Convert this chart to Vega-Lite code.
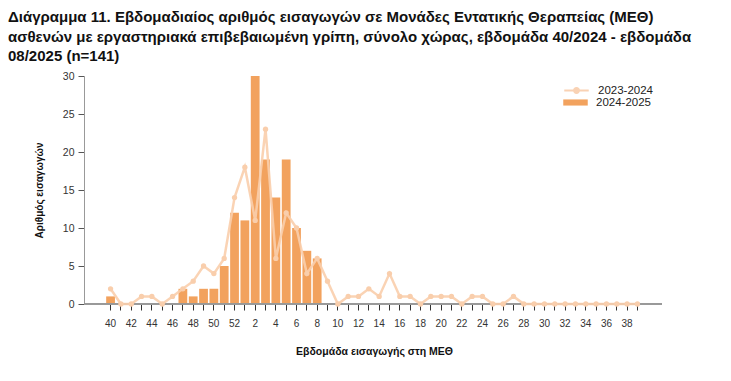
{
  "$schema": "https://vega.github.io/schema/vega-lite/v6.json",
  "autosize": {"type": "none"},
  "width": 578,
  "height": 228,
  "padding": {"left": 84, "top": 76, "right": 69, "bottom": 77},
  "background": "white",
  "title": {
    "text": [
      "Διάγραμμα 11. Εβδομαδιαίος αριθμός εισαγωγών σε Μονάδες Εντατικής Θεραπείας (ΜΕΘ)",
      "ασθενών με εργαστηριακά επιβεβαιωμένη γρίπη, σύνολο χώρας, εβδομάδα 40/2024 - εβδομάδα",
      "08/2025 (n=141)"
    ],
    "anchor": "start",
    "frame": "group",
    "font": "Liberation Sans",
    "fontSize": 15,
    "fontWeight": "bold",
    "color": "#111111",
    "lineHeight": 19.5,
    "offset": 7,
    "dx": -76
  },
  "datasets": {
    "prev": [
      {"week": 40, "series": "2023-2024", "n": 2},
      {"week": 41, "series": "2023-2024", "n": 0},
      {"week": 42, "series": "2023-2024", "n": 0},
      {"week": 43, "series": "2023-2024", "n": 1},
      {"week": 44, "series": "2023-2024", "n": 1},
      {"week": 45, "series": "2023-2024", "n": 0},
      {"week": 46, "series": "2023-2024", "n": 1},
      {"week": 47, "series": "2023-2024", "n": 2},
      {"week": 48, "series": "2023-2024", "n": 3},
      {"week": 49, "series": "2023-2024", "n": 5},
      {"week": 50, "series": "2023-2024", "n": 4},
      {"week": 51, "series": "2023-2024", "n": 6},
      {"week": 52, "series": "2023-2024", "n": 14},
      {"week": 1, "series": "2023-2024", "n": 18},
      {"week": 2, "series": "2023-2024", "n": 11},
      {"week": 3, "series": "2023-2024", "n": 23},
      {"week": 4, "series": "2023-2024", "n": 6},
      {"week": 5, "series": "2023-2024", "n": 12},
      {"week": 6, "series": "2023-2024", "n": 10},
      {"week": 7, "series": "2023-2024", "n": 4},
      {"week": 8, "series": "2023-2024", "n": 6},
      {"week": 9, "series": "2023-2024", "n": 3},
      {"week": 10, "series": "2023-2024", "n": 0},
      {"week": 11, "series": "2023-2024", "n": 1},
      {"week": 12, "series": "2023-2024", "n": 1},
      {"week": 13, "series": "2023-2024", "n": 2},
      {"week": 14, "series": "2023-2024", "n": 1},
      {"week": 15, "series": "2023-2024", "n": 4},
      {"week": 16, "series": "2023-2024", "n": 1},
      {"week": 17, "series": "2023-2024", "n": 1},
      {"week": 18, "series": "2023-2024", "n": 0},
      {"week": 19, "series": "2023-2024", "n": 1},
      {"week": 20, "series": "2023-2024", "n": 1},
      {"week": 21, "series": "2023-2024", "n": 1},
      {"week": 22, "series": "2023-2024", "n": 0},
      {"week": 23, "series": "2023-2024", "n": 1},
      {"week": 24, "series": "2023-2024", "n": 1},
      {"week": 25, "series": "2023-2024", "n": 0},
      {"week": 26, "series": "2023-2024", "n": 0},
      {"week": 27, "series": "2023-2024", "n": 1},
      {"week": 28, "series": "2023-2024", "n": 0},
      {"week": 29, "series": "2023-2024", "n": 0},
      {"week": 30, "series": "2023-2024", "n": 0},
      {"week": 31, "series": "2023-2024", "n": 0},
      {"week": 32, "series": "2023-2024", "n": 0},
      {"week": 33, "series": "2023-2024", "n": 0},
      {"week": 34, "series": "2023-2024", "n": 0},
      {"week": 35, "series": "2023-2024", "n": 0},
      {"week": 36, "series": "2023-2024", "n": 0},
      {"week": 37, "series": "2023-2024", "n": 0},
      {"week": 38, "series": "2023-2024", "n": 0},
      {"week": 39, "series": "2023-2024", "n": 0}
    ],
    "curr": [
      {"week": 40, "season": "2024-2025", "n": 1},
      {"week": 41, "season": "2024-2025", "n": 0},
      {"week": 42, "season": "2024-2025", "n": 0},
      {"week": 43, "season": "2024-2025", "n": 0},
      {"week": 44, "season": "2024-2025", "n": 0},
      {"week": 45, "season": "2024-2025", "n": 0},
      {"week": 46, "season": "2024-2025", "n": 0},
      {"week": 47, "season": "2024-2025", "n": 2},
      {"week": 48, "season": "2024-2025", "n": 1},
      {"week": 49, "season": "2024-2025", "n": 2},
      {"week": 50, "season": "2024-2025", "n": 2},
      {"week": 51, "season": "2024-2025", "n": 5},
      {"week": 52, "season": "2024-2025", "n": 12},
      {"week": 1, "season": "2024-2025", "n": 11},
      {"week": 2, "season": "2024-2025", "n": 30},
      {"week": 3, "season": "2024-2025", "n": 19},
      {"week": 4, "season": "2024-2025", "n": 14},
      {"week": 5, "season": "2024-2025", "n": 19},
      {"week": 6, "season": "2024-2025", "n": 10},
      {"week": 7, "season": "2024-2025", "n": 7},
      {"week": 8, "season": "2024-2025", "n": 6}
    ]
  },
  "encoding": {
    "x": {
      "field": "week",
      "type": "ordinal",
      "scale": {
        "domain": [40,41,42,43,44,45,46,47,48,49,50,51,52,1,2,3,4,5,6,7,8,9,10,11,12,13,14,15,16,17,18,19,20,21,22,23,24,25,26,27,28,29,30,31,32,33,34,35,36,37,38,39],
        "range": [17, 563],
        "paddingInner": 0.15,
        "paddingOuter": 0.5
      },
      "axis": {
        "title": "Εβδομάδα εισαγωγής στη ΜΕΘ",
        "labelExpr": "datum.value % 2 == 0 ? datum.label : ''",
        "labelAngle": 0,
        "labelFontSize": 10,
        "labelColor": "#333333",
        "labelPadding": 8,
        "tickSize": 6,
        "tickColor": "#333333",
        "domain": false,
        "titleFontSize": 10.5,
        "titleFontWeight": "bold",
        "titleColor": "#111111",
        "titlePadding": 18
      }
    },
    "y": {
      "field": "n",
      "type": "quantitative",
      "scale": {"domain": [0, 30], "nice": false},
      "axis": {
        "title": "Αριθμός εισαγωγών",
        "values": [0, 5, 10, 15, 20, 25, 30],
        "grid": false,
        "labelFontSize": 10.5,
        "labelColor": "#333333",
        "labelPadding": 4,
        "tickSize": 6,
        "tickColor": "#555555",
        "domainColor": "#999999",
        "titleFontSize": 10,
        "titleFontWeight": "bold",
        "titleColor": "#111111",
        "titlePadding": 18
      }
    }
  },
  "layer": [
    {
      "data": {"name": "curr"},
      "mark": {"type": "bar"},
      "encoding": {
        "fill": {
          "field": "season",
          "type": "nominal",
          "scale": {"range": ["#F2A25E"]},
          "legend": {
            "title": null,
            "orient": "none",
            "legendX": 479,
            "legendY": 14,
            "symbolType": "M-1,-0.25L1,-0.25L1,0.25L-1,0.25Z",
            "symbolSize": 600,
            "symbolStrokeWidth": 0,
            "labelFontSize": 11.5,
            "labelColor": "#222222",
            "labelOffset": 8
          }
        }
      }
    },
    {
      "data": {"name": "prev"},
      "mark": {"type": "rule", "color": "#999999", "strokeWidth": 1},
      "encoding": {
        "y": {"datum": 0},
        "x": null
      }
    },
    {
      "data": {"name": "prev"},
      "mark": {"type": "line", "color": "#F9CEAC", "strokeWidth": 2.5, "opacity": 0.9},
      "encoding": {
        "stroke": {
          "field": "series",
          "type": "nominal",
          "scale": {"range": ["#F9CEAC"]},
          "legend": {
            "title": null,
            "orient": "none",
            "legendX": 479,
            "legendY": 1,
            "symbolType": "M-1,0L1,0M-0.2,0A0.2,0.2 0 1,1 0.2,0A0.2,0.2 0 1,1 -0.2,0Z",
            "symbolSize": 600,
            "symbolStrokeWidth": 2,
            "symbolFillColor": "#F9CEAC",
            "labelFontSize": 11.5,
            "labelColor": "#222222",
            "labelOffset": 8
          }
        }
      }
    },
    {
      "data": {"name": "prev"},
      "mark": {"type": "point", "filled": true, "color": "#F9CEAC", "size": 28, "opacity": 1}
    }
  ],
  "config": {
    "font": "Liberation Sans",
    "view": {"stroke": null}
  }
}
